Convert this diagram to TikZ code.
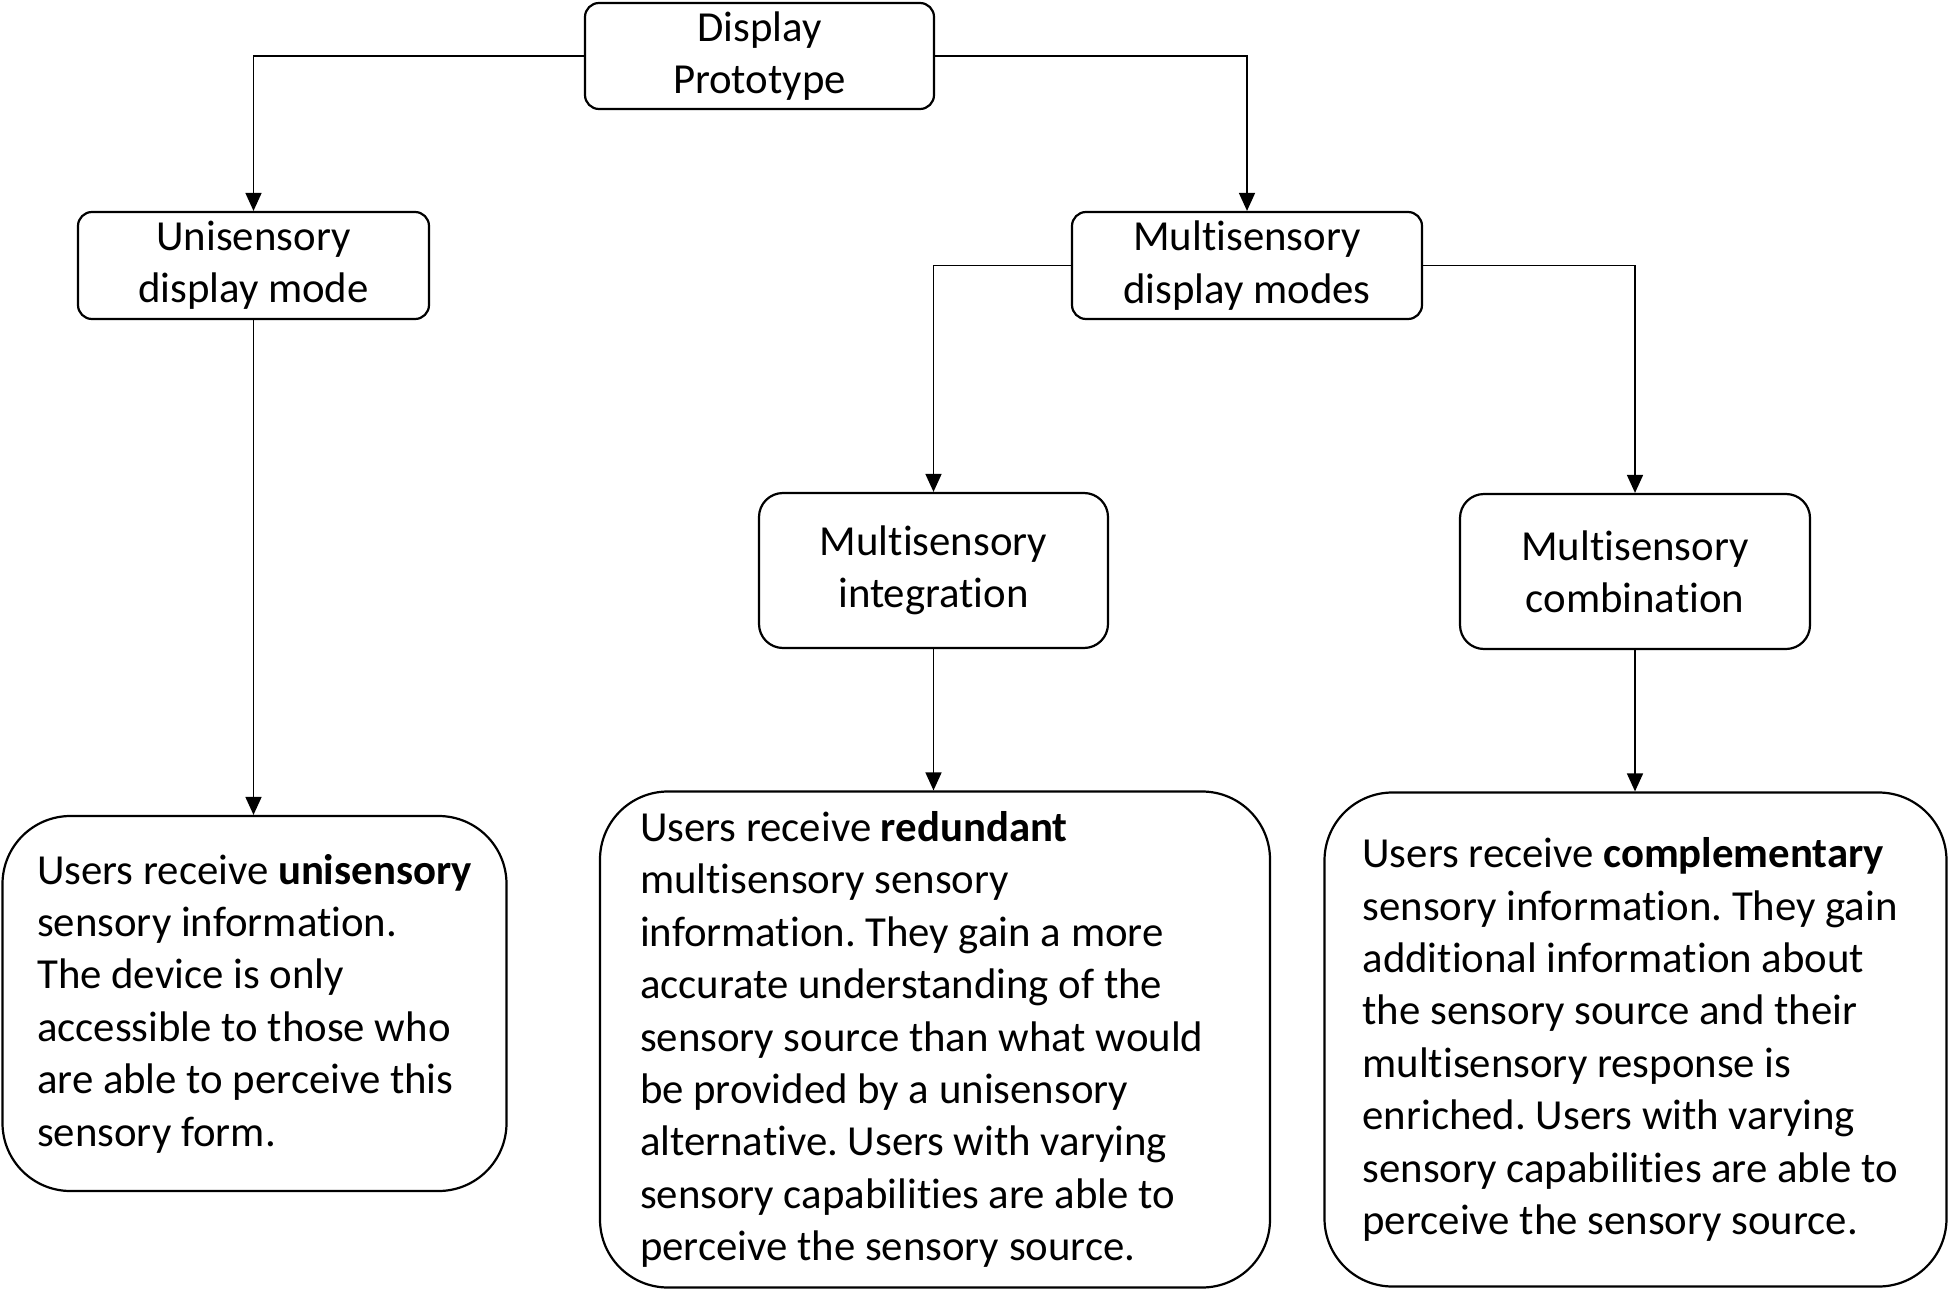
\documentclass[tikz,border=0pt]{standalone}
\usepackage{fontspec}
\setmainfont{Carlito}[Ligatures=NoCommon]
\frenchspacing
\usetikzlibrary{arrows.meta}

\tikzset{
  box/.style={draw, line width=1.1pt, rounded corners=7pt, align=center,
    inner sep=0pt, font=\fontsize{21.4pt}{26.2pt}\selectfont},
  textbox/.style={box, rounded corners=34pt, align=left},
  arr/.style={line width=0.8pt, -{Triangle[length=9pt,width=8pt]}}
}

\begin{document}
\begin{tikzpicture}[x=0.5pt, y=-0.5pt]
    \useasboundingbox (0,0) rectangle (1948,1289);

    % top level
    \node[box, minimum width=174.5pt, minimum height=53pt] (proto) at (759.5,56) {Display\\Prototype};

    % display modes
    \node[box, minimum width=175.5pt, minimum height=53.5pt] (uni) at (253.5,265.5) {Unisensory\\display mode};
    \node[box, minimum width=175pt, minimum height=53.5pt] (multi) at (1247,265.5) {Multisensory\\display modes};

    % multisensory kinds
    \node[box, rounded corners=12pt, minimum width=174.5pt, minimum height=77.5pt] (integ) at (933.5,570.5) {Multisensory\\integration};
    \node[box, rounded corners=12pt, minimum width=175pt, minimum height=77.5pt] (combi) at (1635,571.5) {Multisensory\\combination};

    % descriptions
    \node[textbox, minimum width=252pt, minimum height=187.5pt] (unitext) at (254.5,1003.5)
      {Users receive \textbf{unisensory}\\sensory information.\\The device is only\\accessible to those who\\are able to perceive this\\sensory form.};
    \node[textbox, align=flush left, inner xsep=20pt, text width=295pt, minimum height=248pt] (redtext) at (935,1039.5)
      {Users receive \textbf{redundant}\\multisensory sensory\\information. They gain a more\\accurate understanding of the\\sensory source than what would\\be provided by a unisensory\\alternative. Users with varying\\sensory capabilities are able to\\perceive the sensory source.};
    \node[textbox, align=flush left, inner xsep=19pt, text width=273pt, minimum height=247pt] (comptext) at (1635.5,1039.5)
      {Users receive \textbf{complementary}\\sensory information. They gain\\additional information about\\the sensory source and their\\multisensory response is\\enriched. Users with varying\\sensory capabilities are able to\\perceive the sensory source.};

    % connectors
    \draw[arr] (proto.west) -| (uni.north);
    \draw[arr] (proto.east) -| (multi.north);
    \draw[arr] (multi.west) -| (integ.north);
    \draw[arr] (multi.east) -| (combi.north);
    \draw[arr] (uni.south) -- (uni.south |- unitext.north);
    \draw[arr] (integ.south) -- (integ.south |- redtext.north);
    \draw[arr] (combi.south) -- (combi.south |- comptext.north);
\end{tikzpicture}
\end{document}
